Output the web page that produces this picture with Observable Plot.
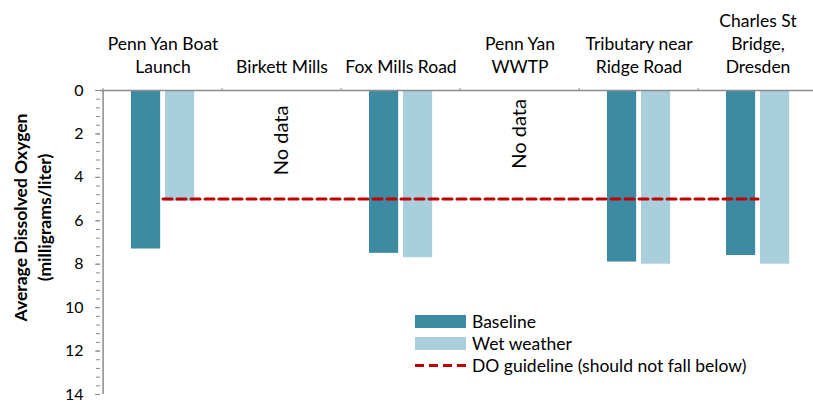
<!DOCTYPE html>
<html><head><meta charset="utf-8">
<script src="https://cdn.jsdelivr.net/npm/d3@7"></script>
<script src="https://cdn.jsdelivr.net/npm/@observablehq/plot@0.6"></script>
<style>
body{margin:0;background:#fff;font-family:Lato,sans-serif}
#wrap{position:relative;width:813px;height:402px;overflow:hidden}
#legend{position:absolute;left:415px;top:310px;font-size:17.5px;color:#000;font-family:Lato,sans-serif}
.row{display:flex;align-items:center;height:22px;white-space:nowrap}
.sw{width:51px;height:13px;margin-right:6px;flex:none}
</style></head><body>
<div id="wrap"><div id="chart"></div><div id="legend"></div></div>
<script>
const categories = ["Penn Yan Boat\nLaunch","Birkett Mills","Fox Mills Road","Penn Yan\nWWTP","Tributary near\nRidge Road","Charles St\nBridge,\nDresden"];
const baseline = [7.3, null, 7.5, null, 7.9, 7.6];
const wetWeather = [5.1, null, 7.7, null, 8.0, 8.0];
const guideline = 5;
const noDataSites = ["Birkett Mills","Penn Yan\nWWTP"];
const noDataY = [2.3, 2.0];
const yTicks = [0,2,4,6,8,10,12,14];
const yMinorTicks = [0,0.4,0.8,1.2,1.6,2,2.4,2.8,3.2,3.6,4,4.4,4.8,5.2,5.6,6,6.4,6.8,7.2,7.6,8,8.4,8.8,9.2,9.6,10,10.4,10.8,11.2,11.6,12,12.4,12.8,13.2,13.6,14];
const seriesNames = ["Baseline","Wet weather","DO guideline (should not fall below)"];
const colors = ["#3d8ba2","#a9cfdc","#c00000"];
const yLabel = "Average Dissolved Oxygen\n(milligrams/liter)";

const W = 813, H = 402, mL = 100, mR = -6, mT = 90, mB = 8;
const bw = (W - mL - mR) / categories.length;
const rows = categories.map((c, i) => ({site: c, baseline: baseline[i], wet: wetWeather[i]}));
const axisColor = "#8c8c8c";

const plot = Plot.plot({
  width: W, height: H, marginLeft: mL, marginRight: mR, marginTop: mT, marginBottom: mB,
  style: {fontFamily: "Lato, sans-serif", background: "#fff", color: "#000", overflow: "visible"},
  x: {type: "band", domain: categories, padding: 0},
  y: {domain: [0, 14], reverse: true},
  marks: [
    Plot.barY(rows.filter(d => d.baseline != null), {x: "site", y1: 0, y2: "baseline", fill: colors[0], insetLeft: 28, insetRight: bw - 58}),
    Plot.barY(rows.filter(d => d.wet != null), {x: "site", y1: 0, y2: "wet", fill: colors[1], insetLeft: 62, insetRight: bw - 92}),
    Plot.line([categories[0], categories[categories.length - 1]], {x: d => d, y: () => guideline, stroke: colors[2], strokeWidth: 3, strokeDasharray: "9,5"}),
    Plot.text(noDataSites, {x: d => d, y: (d, i) => noDataY[i], text: () => "No data", rotate: -90, fontSize: 20}),
    Plot.ruleY([0], {stroke: axisColor, strokeWidth: 1.5}),
    Plot.ruleX([categories[0]], {y1: 0, y2: 14, dx: -bw / 2, stroke: axisColor, strokeWidth: 1.5}),
    Plot.axisY({ticks: yMinorTicks, tickSize: 4, tickFormat: () => "", stroke: axisColor, label: null}),
    Plot.axisY({ticks: yTicks, tickSize: 5, tickFormat: () => "", stroke: axisColor, label: null}),
    Plot.axisY({ticks: yTicks, tickSize: 0, tickPadding: 17, fontSize: 16, label: null}),
    Plot.axisX({anchor: "top", tickSize: 3, dx: -bw / 2, tickFormat: () => "", stroke: axisColor, label: null}),
    Plot.axisX({anchor: "top", tickSize: 0, tickPadding: 18, fontSize: 17.5, lineHeight: 1.3, label: null}),
    Plot.text([yLabel], {frameAnchor: "left", text: d => d, textAnchor: "middle", rotate: -90, dx: -69.5, dy: -25, fontWeight: "bold", fontSize: 17.5, lineHeight: 1.42})
  ]
});
document.getElementById("chart").appendChild(plot);

const legend = document.getElementById("legend");
seriesNames.forEach((name, i) => {
  const row = document.createElement("div");
  row.className = "row";
  if (i < 2) {
    row.innerHTML = `<div class="sw" style="background:${colors[i]}"></div><span>${name}</span>`;
  } else {
    row.innerHTML = `<svg class="sw" width="51" height="13"><line x1="0" x2="51" y1="6.5" y2="6.5" stroke="${colors[i]}" stroke-width="3" stroke-dasharray="9,5"/></svg><span>${name}</span>`;
  }
  legend.appendChild(row);
});
</script>
</body></html>
